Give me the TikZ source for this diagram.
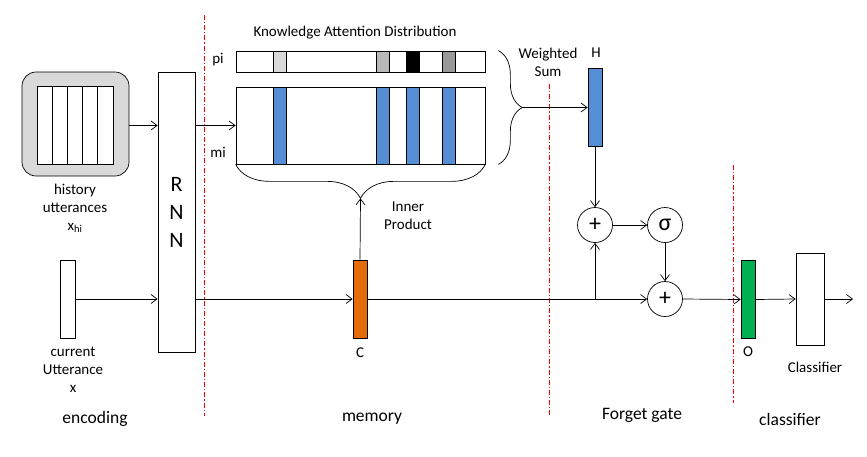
\documentclass[tikz,border=0pt]{standalone}
\usepackage{fontspec}
\setmainfont{Carlito}
\usetikzlibrary{arrows.meta,calc,decorations.pathreplacing}
\definecolor{barblue}{HTML}{558ED5}
\definecolor{barorange}{HTML}{E46C0A}
\definecolor{bargreen}{HTML}{00B050}
\definecolor{histgray}{HTML}{D9D9D9}
\begin{document}
\begin{tikzpicture}[x=1pt,y=-1pt,>={Straight Barb[length=6pt,width=9pt]},line width=0.7pt,
  bar/.style={draw,fill=#1,minimum width=14pt,minimum height=78pt,inner sep=0pt},
  cell/.style={draw,fill=#1,minimum width=13pt,inner sep=0pt},
  op/.style={draw,circle,minimum size=35pt,inner sep=0pt,font=\fontsize{24}{24}\selectfont},
  lbl/.style={font=\fontsize{15}{18}\selectfont,align=center},
  sect/.style={font=\fontsize{17.5}{20}\selectfont},
  sep/.style={red,line width=1.1pt,dash pattern=on 5pt off 2pt on 1.2pt off 2pt},
  brc/.style={decorate,decoration={brace,amplitude=#1}}]
\useasboundingbox (0,0) rectangle (867,456);
% section separators
\foreach \x/\ya/\yb in {204.5/15/416,549.5/84/416,733.5/165/403}
  \draw[sep] (\x,\ya) -- (\x,\yb);
% encoding
\node[draw,fill=histgray,rounded corners=14pt,minimum width=107pt,minimum height=104pt,inner sep=0pt] (hist) at (75.5,124) {};
\node[draw,fill=white,minimum width=76pt,minimum height=78pt,inner sep=0pt] (utt) at (75,125) {};
\foreach \x in {52.2,67.4,82.6,97.8} \draw (\x,86) -- (\x,164);
\node[lbl] (histlbl) at (75,208) {history\\utterances\\x\textsubscript{hi}};
\node[bar=white,minimum width=15pt] (cur) at (67.5,299) {};
\node[lbl] (curlbl) at (73,370) {current\\Utterance\\x};
\node[draw,minimum width=37pt,minimum height=280pt,inner sep=0pt,font=\fontsize{22}{28}\selectfont,align=center] (rnn) at (176.5,212) {R\\N\\N};
% memory
\node[lbl] (kad) at (355,33) {Knowledge Attention Distribution};
\node[draw,minimum width=249pt,minimum height=21pt,inner sep=0pt] (pi) at (360.5,61.5) {};
\node[draw,minimum width=249pt,minimum height=77pt,inner sep=0pt] (mi) at (360.5,125.5) {};
\foreach \x/\c [count=\i] in {279.5/black!15,383/black!28,412.5/black,449/black!40} {
  \node[cell=\c,minimum height=21pt] (p\i) at (\x,61.5) {};
  \node[cell=barblue,minimum height=77pt] (m\i) at (\x,125.5) {};
}
\node[lbl] (pilbl) at (218,60) {pi};
\node[lbl] (milbl) at (218,152) {mi};
\draw[brc=34pt] (mi.south east) -- (mi.south west);
\coordinate (ip) at ($(mi.south)+(0,34)$);
\draw[brc=24pt] ($(pi.north east)+(13,0)$) -- ($(mi.south east)+(13,0)$);
\coordinate (ws) at ($(pi.north east)!0.5!(mi.south east)+(37,0)$);
\node[lbl] (iplbl) at (408,216) {Inner\\Product};
\node[bar=barorange] (C) at (360,299) {};
\node[lbl] (clbl) at (360,353) {C};
% forget gate
\node[lbl] (wslbl) at (548,62) {Weighted\\Sum};
\node[bar=barblue] (H) at (595,107) {};
\node[lbl] (hlbl) at (596,53) {H};
\node[op] (add1) at (595,225) {+};
\node[op] (sig) at (665,225) {σ};
\node[op] (add2) at (665,299) {+};
% classifier
\node[bar=bargreen] (O) at (748,299.5) {};
\node[lbl] (olbl) at (748,352) {O};
\node[draw,minimum width=28pt,minimum height=92pt,inner sep=0pt] (cls) at (810,299) {};
\node[lbl] (clslbl) at (815,367) {Classifier};
\coordinate (out) at (853,299);
% connectors
\draw[->] (hist.east |- mi) -- (rnn.west |- mi);
\draw[->] (rnn.east |- mi) -- (mi.west);
\draw[->] (cur.east) -- (rnn.west |- cur);
\draw[->] (rnn.east |- cur) -- (C.west);
\draw[->] (C.north) -- (ip);
\draw[->] (ws) -- (ws -| H.west);
\draw[->] (C.east) -- (add2.west);
\coordinate (fork) at (add1 |- C);
\draw[->] (fork) -- (add1.south);
\draw[->] (H.south) -- (add1.north);
\draw[->] (add1.east) -- (sig.west);
\draw[->] (sig.south) -- (add2.north);
\draw[->] (add2.east) -- (O.west);
\draw[->] (O.east) -- (cls.west);
\draw[->] (cls.east) -- (out);
% section names
\node[sect] (enc) at (95,419) {encoding};
\node[sect] (mem) at (372,419) {memory};
\node[sect] (fg) at (642,415) {Forget gate};
\node[sect] (clf) at (790,419) {classifier};
\end{tikzpicture}
\end{document}
